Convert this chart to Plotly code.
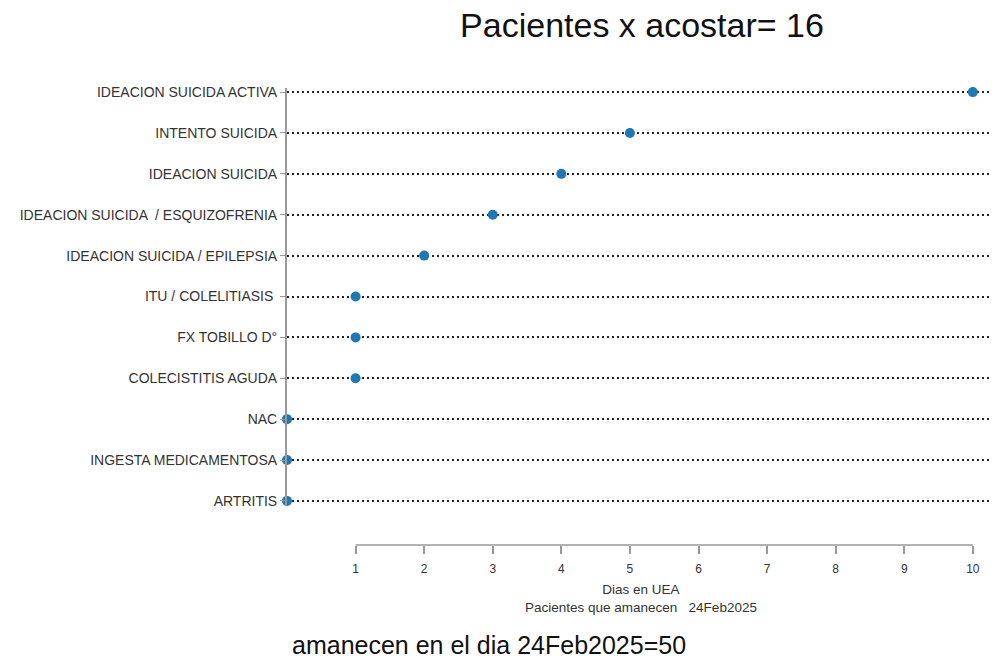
import plotly.graph_objects as go

# Data (top to bottom as shown)
diagnosticos = [
    "IDEACION SUICIDA ACTIVA",
    "INTENTO SUICIDA",
    "IDEACION SUICIDA",
    "IDEACION SUICIDA \u00a0/ ESQUIZOFRENIA",
    "IDEACION SUICIDA / EPILEPSIA",
    "ITU / COLELITIASIS\u00a0",
    "FX TOBILLO D°",
    "COLECISTITIS AGUDA",
    "NAC",
    "INGESTA MEDICAMENTOSA",
    "ARTRITIS",
]
dias = [10, 5, 4, 3, 2, 1, 1, 1, 0, 0, 0]
x_ticks = [1, 2, 3, 4, 5, 6, 7, 8, 9, 10]

titulo = "Pacientes x acostar= 16"
eje_x_titulo = "Dias en UEA<br>Pacientes que amanecen \u00a0\u00a024Feb2025"
pie = "amanecen en el dia 24Feb2025=50"

W, H = 1002, 664
ML, MR, MT, MB = 287, 12, 88, 119
plot_h = H - MT - MB

def py(pix):
    return (H - MB - pix) / plot_h

order_bottom_up = diagnosticos[::-1]

fig = go.Figure()
fig.add_trace(go.Scatter(
    x=dias, y=diagnosticos, mode="markers",
    marker=dict(color="#1f77b4", size=10),
    cliponaxis=False, hoverinfo="x+y",
))

fig.update_layout(
    width=W, height=H,
    margin=dict(l=ML, r=MR, t=MT, b=MB, pad=0),
    plot_bgcolor="white", paper_bgcolor="white",
    showlegend=False,
    font=dict(family="Liberation Sans, Arial, sans-serif", color="#333333"),
    title=dict(text=titulo, x=642 / W, xref="container", xanchor="center",
               y=1 - 25 / H, yref="container", yanchor="middle",
               font=dict(size=34, color="#111111")),
    xaxis=dict(range=[0, 10.25], anchor="free", position=0,
               showgrid=False, zeroline=False, showline=False,
               tickmode="array", tickvals=x_ticks, ticks="outside",
               ticklen=8, tickwidth=1.5, tickcolor="#999999",
               ticklabelstandoff=5,
               tickfont=dict(size=12, color="#333333")),
    yaxis=dict(domain=[py(505), 1], range=[-0.1, 10.1],
               type="category", categoryorder="array", categoryarray=order_bottom_up,
               showline=True, linecolor="#999999", linewidth=2,
               showgrid=True, gridcolor="#222222", gridwidth=2, griddash="2px,3px",
               ticks="outside", ticklen=5, tickwidth=1, tickcolor="#999999",
               tickfont=dict(size=14, color="#333333"), zeroline=False),
)

fig.add_shape(type="line", xref="x", yref="paper",
              x0=x_ticks[0], x1=x_ticks[-1], y0=0, y1=0,
              line=dict(color="#999999", width=1.5))

fig.add_annotation(text=eje_x_titulo, xref="paper", yref="paper",
                   x=(641 - ML) / (W - ML - MR), y=py(598), xanchor="center", yanchor="middle",
                   showarrow=False, font=dict(size=13.5, color="#333333"))
fig.add_annotation(text=pie, xref="paper", yref="paper",
                   x=(488.5 - ML) / (W - ML - MR), y=py(645), xanchor="center", yanchor="middle",
                   showarrow=False, font=dict(size=25, color="#111111"))

fig.write_html("out.html", config={"displayModeBar": False},
               post_script="document.body.style.margin='0';document.body.style.overflow='hidden';")
